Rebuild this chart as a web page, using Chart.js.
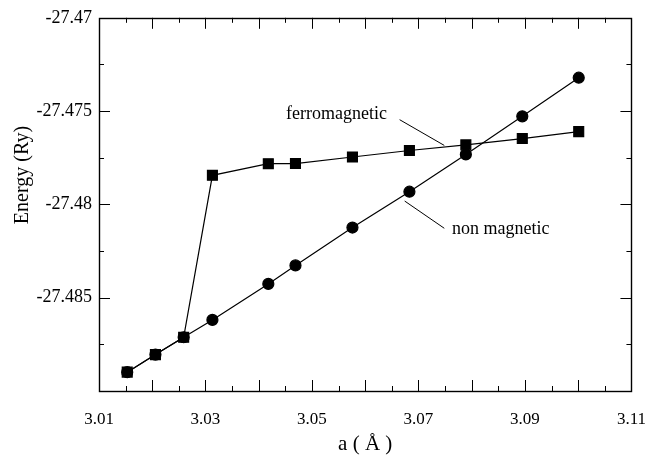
<!DOCTYPE html>
<html>
<head>
<meta charset="utf-8">
<script src="https://cdn.jsdelivr.net/npm/chart.js@4/dist/chart.umd.min.js"></script>
<style>
    html, body { margin: 0; padding: 0; background: #fff; }
</style>
</head>
<body>
<canvas id="energyChart" width="664" height="457"></canvas>
<script>
// lattice constant a (Å) and total energy (Ry)
const nonMagA = [3.0153, 3.0206, 3.0259, 3.0313, 3.0418, 3.0469, 3.0576, 3.0683, 3.0789, 3.0895, 3.1001];
const nonMagE = [-27.48899, -27.48805, -27.48712, -27.48619, -27.48426, -27.48327, -27.48124, -27.47932, -27.47732, -27.47528, -27.47321];
const ferroA = [3.0153, 3.0206, 3.0259, 3.0313, 3.0418, 3.0469, 3.0576, 3.0683, 3.0789, 3.0895, 3.1001];
const ferroE = [-27.48899, -27.48805, -27.48712, -27.47844, -27.47782, -27.47781, -27.47746, -27.47711, -27.47681, -27.47647, -27.47610];

const xRange = [3.01, 3.11];
const yRange = [-27.49, -27.47];
const xLabelStep = 0.02;
const xMajor = 0.01, xMinor = 0.005;
const yMajor = 0.005, yMinor = 0.0025;

// curve labels with their pointer lines, in data units
const curveLabels = [
    { text: 'ferromagnetic', a: 3.0546, e: -27.47516, from: [3.06646, -27.47546], to: [3.07485, -27.47684] },
    { text: 'non magnetic', a: 3.08545, e: -27.48135, from: [3.06741, -27.47982], to: [3.07485, -27.48128] }
];

const SERIF = '"Liberation Serif", "Times New Roman", serif';

function toPoints(xs, ys) {
    return xs.map((v, i) => ({ x: v, y: ys[i] }));
}

// box with inward ticks on all four sides
const frameTicks = {
    id: 'frameTicks',
    beforeDatasetsDraw(chart) {
        const { ctx, chartArea: a, scales: { x, y } } = chart;
        ctx.save();
        ctx.strokeStyle = '#000';
        ctx.lineWidth = 1;
        ctx.beginPath();
        const nx = Math.round((xRange[1] - xRange[0]) / xMinor);
        for (let i = 1; i < nx; i++) {
            const v = xRange[0] + i * xMinor;
            const px = Math.round(x.getPixelForValue(v)) + 0.5;
            const len = (i % Math.round(xMajor / xMinor) === 0) ? 11 : 5;
            ctx.moveTo(px, a.bottom); ctx.lineTo(px, a.bottom - len);
            ctx.moveTo(px, a.top); ctx.lineTo(px, a.top + len);
        }
        const ny = Math.round((yRange[1] - yRange[0]) / yMinor);
        for (let i = 1; i < ny; i++) {
            const v = yRange[0] + i * yMinor;
            const py = Math.round(y.getPixelForValue(v)) + 0.5;
            const len = (i % Math.round(yMajor / yMinor) === 0) ? 11 : 5;
            ctx.moveTo(a.left, py); ctx.lineTo(a.left + len, py);
            ctx.moveTo(a.right, py); ctx.lineTo(a.right - len, py);
        }
        ctx.stroke();
        ctx.lineWidth = 1.4;
        ctx.strokeRect(Math.round(a.left) + 0.5, Math.round(a.top) + 0.5,
            Math.round(a.right - a.left), Math.round(a.bottom - a.top));
        ctx.restore();
    },
    afterDraw(chart) {
        const { ctx, chartArea: a, scales: { x, y } } = chart;
        ctx.save();
        ctx.fillStyle = '#000';
        ctx.strokeStyle = '#000';
        ctx.lineWidth = 1;
        ctx.font = '18px ' + SERIF;
        ctx.textAlign = 'center';
        ctx.textBaseline = 'middle';
        curveLabels.forEach(l => {
            ctx.fillText(l.text, x.getPixelForValue(l.a), y.getPixelForValue(l.e));
            ctx.beginPath();
            ctx.moveTo(x.getPixelForValue(l.from[0]), y.getPixelForValue(l.from[1]));
            ctx.lineTo(x.getPixelForValue(l.to[0]), y.getPixelForValue(l.to[1]));
            ctx.stroke();
        });

        // axis titles
        ctx.font = '21px ' + SERIF;
        ctx.fillText('a ( Å )', (a.left + a.right) / 2, 444);
        ctx.save();
        ctx.translate(23, 175);
        ctx.rotate(-Math.PI / 2);
        ctx.font = '20px ' + SERIF;
        ctx.fillText('Energy (Ry)', 0, 0);
        ctx.restore();
        ctx.restore();
    }
};

const ctx = document.getElementById('energyChart').getContext('2d');
new Chart(ctx, {
    type: 'line',
    data: {
        datasets: [{
            label: 'non magnetic',
            data: toPoints(nonMagA, nonMagE),
            borderColor: '#000',
            backgroundColor: '#000',
            borderWidth: 1.2,
            pointStyle: 'circle',
            pointRadius: 5.5,
            pointHoverRadius: 5.5,
            tension: 0
        }, {
            label: 'ferromagnetic',
            data: toPoints(ferroA, ferroE),
            borderColor: '#000',
            backgroundColor: '#000',
            borderWidth: 1.2,
            pointStyle: 'rect',
            pointRadius: 7,
            pointHoverRadius: 7,
            tension: 0
        }]
    },
    options: {
        responsive: false,
        animation: false,
        devicePixelRatio: 1,
        layout: { padding: { top: 15, right: 28, left: 0, bottom: 0 } },
        plugins: {
            legend: { display: false },
            tooltip: { enabled: false }
        },
        scales: {
            x: {
                type: 'linear',
                min: xRange[0],
                max: xRange[1],
                grid: { display: false, drawTicks: false },
                border: { display: false },
                ticks: {
                    stepSize: xLabelStep,
                    autoSkip: false,
                    maxRotation: 0,
                    padding: 18,
                    color: '#000',
                    font: { family: SERIF, size: 17 },
                    callback: v => v.toFixed(2)
                },
                afterFit: scale => { scale.height = 66; }
            },
            y: {
                type: 'linear',
                min: yRange[0],
                max: yRange[1],
                grid: { display: false, drawTicks: false },
                border: { display: false },
                ticks: {
                    stepSize: yMajor,
                    autoSkip: false,
                    padding: 7,
                    color: '#000',
                    font: { family: SERIF, size: 18 },
                    callback: v => (v <= yRange[0] + 1e-6) ? '' : String(Number(v.toFixed(4)))
                },
                afterFit: scale => { scale.width = 99; }
            }
        }
    },
    plugins: [frameTicks]
});
</script>
</body>
</html>
